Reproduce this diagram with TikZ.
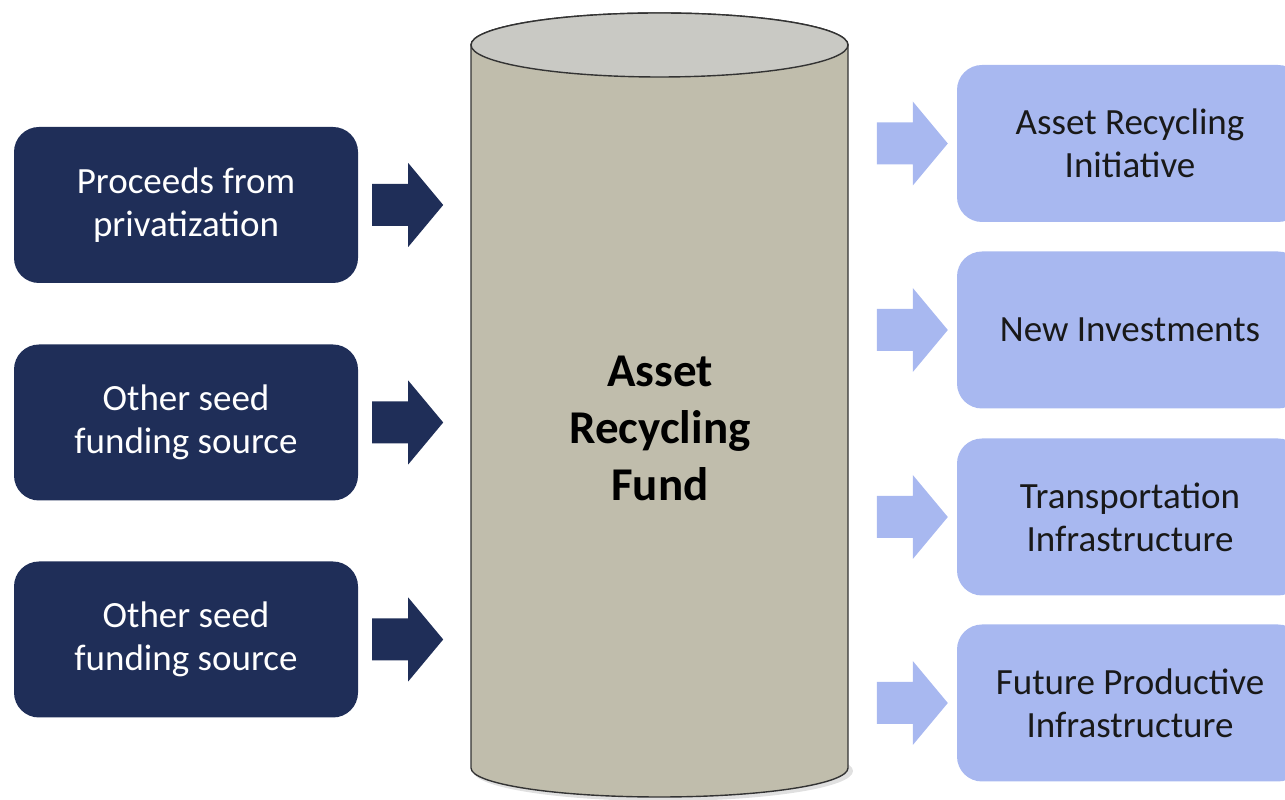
\documentclass[tikz,border=0pt]{standalone}
\usepackage{fontspec}
\setmainfont{Carlito}
\usetikzlibrary{positioning,calc}

\definecolor{navy}{RGB}{31,46,88}
\definecolor{paleblue}{RGB}{168,184,240}
\definecolor{drum}{RGB}{192,189,172}
\definecolor{drumtop}{RGB}{201,201,196}

% block arrow from a tail point
\newcommand{\blockarrow}[2]{%
  \fill[#2] ($(#1)+(0,21)$) -- ++(36,0) -- ++(0,21) -- ++(35,-42)
    -- ++(-35,-42) -- ++(0,21) -- ++(-36,0) -- cycle;}

\begin{document}
\begin{tikzpicture}[x=1pt, y=1pt,
    source/.style={fill=navy, rounded corners=25pt, minimum width=344pt,
      minimum height=156pt, text=white, align=center,
      font=\fontsize{37}{43}\selectfont},
    target/.style={fill=paleblue, rounded corners=25pt, minimum width=346pt,
      minimum height=157pt, text=black!90, align=center,
      font=\fontsize{37}{43}\selectfont}]
    \useasboundingbox (0,0) rectangle (1285,800);

    % Fund - the drum
    \fill[black!12] (663,29) ellipse [x radius=190, y radius=30];
    \draw[line width=1.4pt, draw=black!80, fill=drum] (471,755) -- (471,32)
        arc[start angle=180, end angle=360, x radius=188.5, y radius=29]
        -- (848,755)
        arc[start angle=0, end angle=180, x radius=188.5, y radius=32] -- cycle;
    \draw[line width=1.4pt, draw=black!80, fill=drumtop] (659.5,755) ellipse [x radius=188.5, y radius=32];
    \node[font=\bfseries\fontsize{47}{57}\selectfont, align=center] (fund) at (660,372) {Asset\\Recycling\\Fund};

    % Seed sources
    \node[source] (src1) at (186,595) {Proceeds from\\privatization};
    \node[source] (src2) at (186,377.5) {Other seed\\funding source};
    \node[source] (src3) at (186,160.5) {Other seed\\funding source};

    % Uses of the fund
    \node[target] (use1) at (1130,656.5) {Asset Recycling\\Initiative};
    \node[target] (use2) at (1130,470) {New Investments};
    \node[target] (use3) at (1130,283) {Transportation\\Infrastructure};
    \node[target] (use4) at (1130,97) {Future Productive\\Infrastructure};

    % Arrows into the fund
    \foreach \s in {src1,src2,src3}
        \blockarrow{$(\s.east)+(14,0)$}{navy};

    % Arrows out of the fund
    \foreach \u in {use1,use2,use3,use4}
        \blockarrow{$(\u.west)+(-80,0)$}{paleblue};
\end{tikzpicture}
\end{document}
